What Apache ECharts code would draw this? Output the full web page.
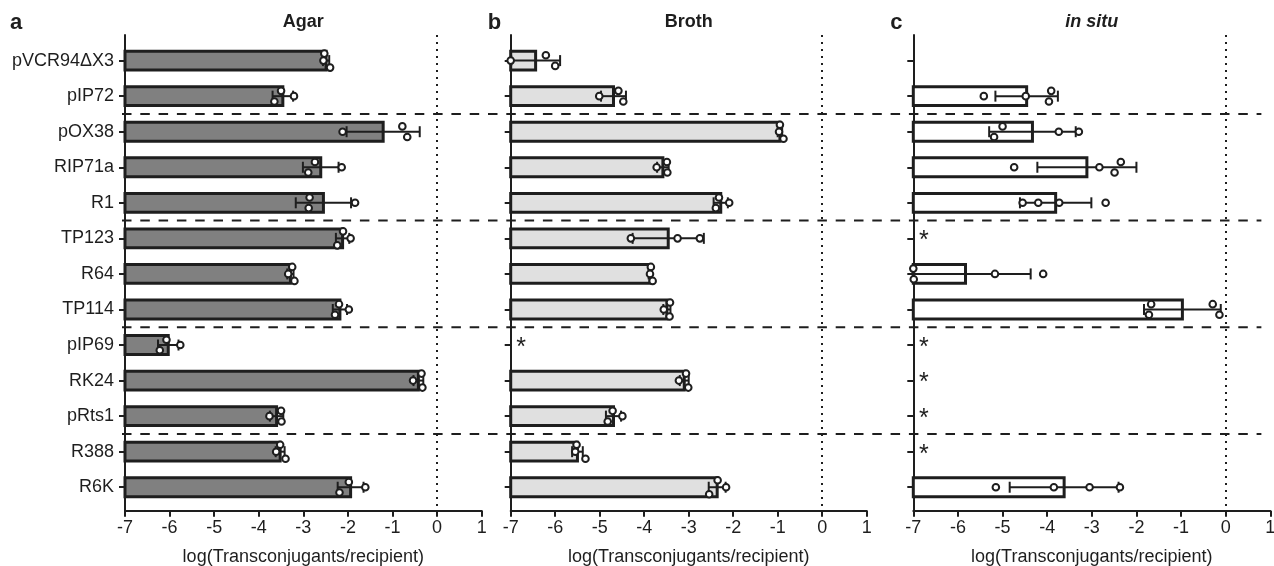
<!DOCTYPE html>
<html><head><meta charset="utf-8">
<script src="https://cdn.jsdelivr.net/npm/echarts@6/dist/echarts.min.js"></script>
<style>html,body{margin:0;padding:0;background:#fff}#c{width:1274px;height:566px}</style>
</head><body><div id="c"></div>
<script>
// ---------------- data ----------------
const categories = ['pVCR94ΔX3','pIP72','pOX38','RIP71a','R1','TP123','R64','TP114','pIP69','RK24','pRts1','R388','R6K'];
const groups = [['pVCR94ΔX3','pIP72'],['pOX38','RIP71a','R1'],['TP123','R64','TP114'],['pIP69','RK24','pRts1'],['R388','R6K']];
const xTicks = [-7,-6,-5,-4,-3,-2,-1,0,1];
const panelTitles = ['Agar','Broth','in situ'];
const panelLetters = ['a','b','c'];
const xAxisName = 'log(Transconjugants/recipient)';

const agarMean = [-2.49,-3.46,-1.21,-2.61,-2.55,-2.12,-3.29,-2.18,-6.03,-0.42,-3.60,-3.52,-1.94];
const agarSD   = [0.07,0.23,0.82,0.40,0.62,0.15,0.07,0.16,0.23,0.11,0.15,0.10,0.29];
const agarPoints = [[-2.53,-2.55,-2.40],[-3.50,-3.21,-3.65],[-0.78,-2.12,-0.67],[-2.74,-2.14,-2.89],[-2.86,-1.84,-2.88],[-2.11,-1.94,-2.24],[-3.25,-3.34,-3.20],[-2.20,-1.98,-2.29],[-6.07,-5.76,-6.22],[-0.35,-0.54,-0.33],[-3.50,-3.76,-3.49],[-3.52,-3.61,-3.40],[-1.98,-1.61,-2.19]];
const agarNone = [];

const brothMean = [-6.44,-4.69,-0.95,-3.58,-2.28,-3.46,-3.87,-3.49,null,-3.10,-4.69,-5.50,-2.36];
const brothSD   = [0.55,0.28,0.05,0.13,0.16,0.80,0.03,0.08,null,0.10,0.17,0.12,0.19];
const brothPoints = [[-6.21,-7.00,-6.00],[-4.58,-5.01,-4.47],[-0.95,-0.97,-0.87],[-3.49,-3.72,-3.48],[-2.32,-2.09,-2.39],[-4.30,-3.25,-2.75],[-3.85,-3.87,-3.81],[-3.42,-3.56,-3.43],[],[-3.06,-3.22,-3.01],[-4.71,-4.49,-4.82],[-5.52,-5.55,-5.32],[-2.35,-2.16,-2.54]];
const brothNone = ['pIP69'];

const insituMean = [null,-4.46,-4.33,-3.11,-3.81,null,-5.83,-0.97,null,null,null,null,-3.62];
const insituSD   = [null,0.70,0.97,1.11,0.80,null,1.46,0.86,null,null,null,null,1.22];
const insituPoints = [[],[-3.91,-5.42,-4.48,-3.96],[-5.00,-3.74,-3.29,-5.19],[-2.35,-4.74,-2.83,-2.49],[-4.55,-4.20,-3.73,-2.69],[],[-7.00,-5.17,-4.09,-6.99],[-1.67,-0.29,-1.72,-0.14],[],[],[],[],[-5.15,-3.85,-3.05,-2.37]];
const insituNone = ['TP123','pIP69','RK24','pRts1','R388'];

// ---------------- setup ----------------
const FONT = 'Liberation Sans, Arial, Helvetica, sans-serif';
const INK = '#1e1e1e';
const X_MIN = -7, X_MAX = 1;
const panels = [
  {mean: agarMean, sd: agarSD, pts: agarPoints, none: agarNone, fill: '#808080'},
  {mean: brothMean, sd: brothSD, pts: brothPoints, none: brothNone, fill: '#e0e0e0'},
  {mean: insituMean, sd: insituSD, pts: insituPoints, none: insituNone, fill: '#ffffff'}
];
const gridsPx = [
  {left: 125, right: 792.3, top: 35, bottom: 55.3},
  {left: 510.7, right: 407.3, top: 35, bottom: 55.3},
  {left: 913.3, right: 3.7, top: 35, bottom: 55.3}
];
const rowIdx = categories.map((c, i) => i);

function swarmOffsets(px) {
  const n = px.length;
  const off = new Array(n).fill(0);
  if (!n) return off;
  const order = px.map((x, i) => i).sort((a, b) => px[a] - px[b]);
  const clusters = [];
  let cur = [order[0]];
  for (let k = 1; k < n; k++) {
    if (px[order[k]] - px[order[k - 1]] < 9.5) cur.push(order[k]);
    else { clusters.push(cur); cur = [order[k]]; }
  }
  clusters.push(cur);
  clusters.forEach(c => {
    c.sort((a, b) => a - b);
    const m = c.length;
    const step = m === 2 ? 10.6 : 7;
    c.forEach((i, k) => { off[i] = (k - (m - 1) / 2) * step; });
  });
  return off;
}

const chart = echarts.init(document.getElementById('c'), null, {renderer: 'canvas'});

const grid = gridsPx.map(g => Object.assign({outerBoundsMode: 'none', containLabel: false}, g));
const xAxis = panels.map((p, k) => ({
  gridIndex: k, type: 'value', min: X_MIN, max: X_MAX, interval: 1,
  axisLine: {show: true, onZero: false, lineStyle: {color: INK, width: 2}},
  axisTick: {show: true, length: 6, inside: false, lineStyle: {color: INK, width: 2}},
  axisLabel: {show: true, fontSize: 18, color: INK, fontFamily: FONT, margin: 8, showMinLabel: true, showMaxLabel: true,
    customValues: xTicks, formatter: v => String(v)},
  splitLine: {show: false},
  name: xAxisName, nameLocation: 'middle', nameGap: 37,
  nameTextStyle: {fontSize: 18, color: INK, fontFamily: FONT}
}));
const yAxis = panels.map((p, k) => ({
  gridIndex: k, type: 'value', inverse: true, min: -0.72, max: 12.66,
  axisLine: {show: true, onZero: false, lineStyle: {color: INK, width: 2}},
  axisTick: {show: true, length: 6, inside: false, customValues: rowIdx, lineStyle: {color: INK, width: 2}},
  axisLabel: {show: k === 0, customValues: rowIdx, fontSize: 18, color: INK, fontFamily: FONT, margin: 11,
    formatter: v => categories[Math.round(v)] || ''},
  splitLine: {show: false}
}));

const series = [];
panels.forEach((p, k) => {
  const rows = rowIdx.filter(i => p.mean[i] != null);
  // bars
  series.push({
    type: 'custom', xAxisIndex: k, yAxisIndex: k, z: 2, silent: true,
    data: rows.map(i => [p.mean[i], i]),
    encode: {x: 0, y: 1},
    renderItem: (params, api) => {
      const v = api.value(0), row = api.value(1);
      const a = api.coord([X_MIN, row]), b = api.coord([v, row]);
      const h = api.size([0, 1])[1] * 0.53;
      return {type: 'rect', shape: {x: a[0], y: a[1] - h / 2, width: b[0] - a[0], height: h},
        style: {fill: p.fill, stroke: INK, lineWidth: 3}};
    },
    markLine: {silent: true, symbol: ['none', 'none'], label: {show: false}, animation: false,
      lineStyle: {type: [2, 5], color: INK, width: 2}, emphasis: {disabled: true},
      data: [{xAxis: 0}]}
  });
  // error bars
  series.push({
    type: 'custom', xAxisIndex: k, yAxisIndex: k, z: 3, silent: true,
    data: rows.map(i => [p.mean[i], i, p.sd[i]]),
    encode: {x: 0, y: 1},
    renderItem: (params, api) => {
      const m = api.value(0), row = api.value(1), s = api.value(2);
      const loV = Math.max(m - s, X_MIN);
      const lo = api.coord([loV, row]), hi = api.coord([m + s, row]);
      const cap = 5.5;
      const st = {stroke: INK, lineWidth: 2};
      const ch = [
        {type: 'line', shape: {x1: lo[0], y1: lo[1], x2: hi[0], y2: hi[1]}, style: st},
        {type: 'line', shape: {x1: hi[0], y1: hi[1] - cap, x2: hi[0], y2: hi[1] + cap}, style: st}
      ];
      if (m - s >= X_MIN) ch.push({type: 'line', shape: {x1: lo[0], y1: lo[1] - cap, x2: lo[0], y2: lo[1] + cap}, style: st});
      return {type: 'group', children: ch};
    }
  });
  // points
  series.push({
    type: 'custom', xAxisIndex: k, yAxisIndex: k, z: 4, silent: true,
    data: rows.map(i => [p.mean[i], i]),
    encode: {x: 0, y: 1},
    renderItem: (params, api) => {
      const row = api.value(1);
      const pts = p.pts[row];
      const c = pts.map(v => api.coord([v, row]));
      const off = swarmOffsets(c.map(q => q[0]));
      return {type: 'group', children: c.map((q, j) => ({
        type: 'circle', shape: {cx: q[0], cy: q[1] + off[j], r: 3.3},
        style: {fill: '#ffffff', stroke: INK, lineWidth: 2}}))};
    }
  });
  // "no transfer" asterisks
  if (p.none.length) {
    series.push({
      type: 'custom', xAxisIndex: k, yAxisIndex: k, z: 4, silent: true,
      data: p.none.map(n => [X_MIN, categories.indexOf(n)]),
      encode: {x: 0, y: 1},
      renderItem: (params, api) => {
        const q = api.coord([api.value(0), api.value(1)]);
        return {type: 'text', x: q[0] + 10.5, y: q[1] + 3,
          style: {text: '*', fontSize: 25, fontFamily: FONT, fill: INK, align: 'center', verticalAlign: 'middle'}};
      }
    });
  }
});

chart.setOption({animation: false, backgroundColor: '#ffffff', grid, xAxis, yAxis, series});

// group separators, titles and panel letters
const breaks = [];
let acc = 0;
groups.slice(0, -1).forEach(g => { acc += g.length; breaks.push(acc - 0.5); });
const xStart = chart.convertToPixel({xAxisIndex: 0}, X_MIN) - 3;
const xEnd = chart.convertToPixel({xAxisIndex: 2}, 0.8);
const graphic = breaks.map(b => {
  const y = chart.convertToPixel({yAxisIndex: 0}, b);
  return {type: 'line', silent: true, z: 10,
    shape: {x1: xStart, y1: y, x2: xEnd, y2: y},
    style: {stroke: INK, lineWidth: 2, lineDash: [9.5, 8.8]}};
});
panels.forEach((p, k) => {
  const cx = chart.convertToPixel({xAxisIndex: k}, (X_MIN + X_MAX) / 2);
  const left = chart.convertToPixel({xAxisIndex: k}, X_MIN);
  graphic.push({type: 'text', silent: true, x: cx, y: 22,
    style: {text: panelTitles[k], fontSize: 18, fontWeight: 'bold', fontStyle: k === 2 ? 'italic' : 'normal',
      fontFamily: FONT, fill: INK, align: 'center', verticalAlign: 'middle'}});
  graphic.push({type: 'text', silent: true, x: k === 0 ? 10 : left - 23, y: 23,
    style: {text: panelLetters[k], fontSize: 22, fontWeight: 'bold', fontFamily: FONT, fill: INK,
      align: 'left', verticalAlign: 'middle'}});
});
chart.setOption({graphic});
</script>
</body></html>
